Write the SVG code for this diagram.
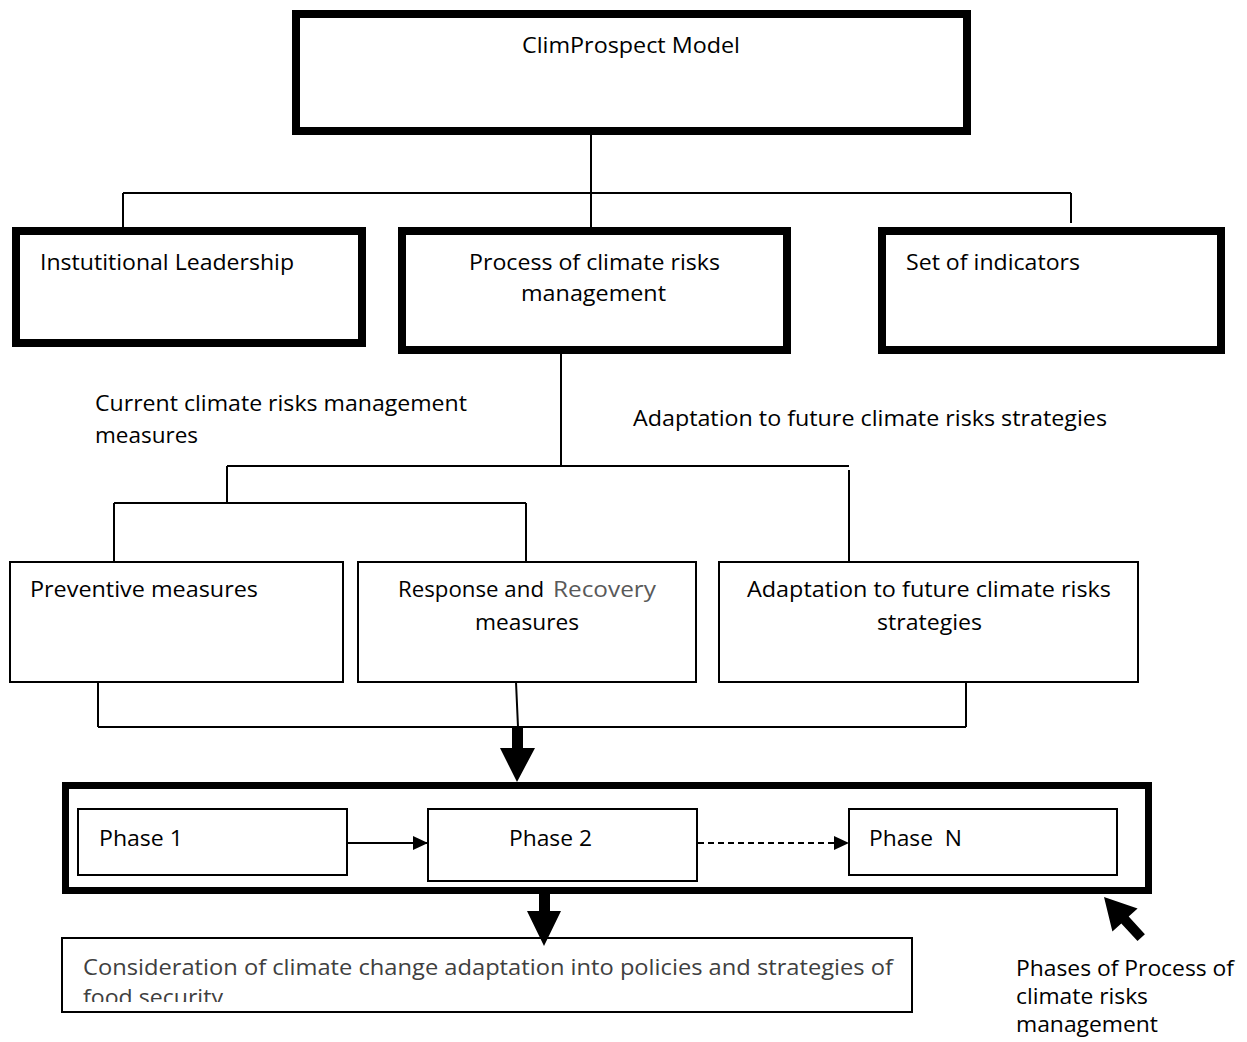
<svg xmlns="http://www.w3.org/2000/svg" width="1247" height="1042" viewBox="0 0 1247 1042">
<style>
.thick{fill:#fff;stroke:#000;stroke-width:8}
.thin{fill:#fff;stroke:#000;stroke-width:2}
.ln{fill:none;stroke:#000;stroke-width:2}
.t{font-family:"Open Sans","Liberation Sans",sans-serif;font-size:21px;fill:#000}
.g{fill:#404040}
.gr{fill:#595959}
</style>
<defs>
<marker id="ah" markerWidth="15" markerHeight="14" refX="15" refY="7" orient="auto" markerUnits="userSpaceOnUse">
<path d="M0,0 L15,7 L0,14 Z" fill="#000"/>
</marker>
<clipPath id="clipBottom"><rect x="62" y="938" width="850" height="64"/></clipPath>
</defs>
<rect width="1247" height="1042" fill="#fff"/>

<g id="node-climprospect">
<rect class="thick" x="296" y="14" width="671" height="117"/>
<text class="t" x="522" y="53" textLength="218" lengthAdjust="spacingAndGlyphs">ClimProspect Model</text>
</g>

<g id="node-leadership">
<rect class="thick" x="16" y="231" width="346" height="112"/>
<text class="t" x="40" y="270" textLength="254" lengthAdjust="spacingAndGlyphs">Instutitional Leadership</text>
</g>

<g id="node-process">
<rect class="thick" x="402" y="231" width="385" height="119"/>
<text class="t" x="469" y="270" textLength="251" lengthAdjust="spacingAndGlyphs">Process of climate risks</text>
<text class="t" x="521" y="301" textLength="145" lengthAdjust="spacingAndGlyphs">management</text>
</g>

<g id="node-indicators">
<rect class="thick" x="882" y="231" width="339" height="119"/>
<text class="t" x="906" y="270" textLength="174" lengthAdjust="spacingAndGlyphs">Set of indicators</text>
</g>

<g id="label-current">
<text class="t" x="95" y="411" textLength="372" lengthAdjust="spacingAndGlyphs">Current climate risks management</text>
<text class="t" x="95" y="443" textLength="103" lengthAdjust="spacingAndGlyphs">measures</text>
</g>

<g id="label-adaptation">
<text class="t" x="633" y="426" textLength="474" lengthAdjust="spacingAndGlyphs">Adaptation to future climate risks strategies</text>
</g>

<g id="node-preventive">
<rect class="thin" x="10" y="562" width="333" height="120"/>
<text class="t" x="30" y="597" textLength="228" lengthAdjust="spacingAndGlyphs">Preventive measures</text>
</g>

<g id="node-response">
<rect class="thin" x="358" y="562" width="338" height="120"/>
<text class="t" x="398" y="597" textLength="146" lengthAdjust="spacingAndGlyphs">Response and</text>
<text class="t gr" x="553" y="597" textLength="103" lengthAdjust="spacingAndGlyphs">Recovery</text>
<text class="t" x="475" y="630" textLength="104" lengthAdjust="spacingAndGlyphs">measures</text>
</g>

<g id="node-adaptation">
<rect class="thin" x="719" y="562" width="419" height="120"/>
<text class="t" x="747" y="597" textLength="364" lengthAdjust="spacingAndGlyphs">Adaptation to future climate risks</text>
<text class="t" x="877" y="630" textLength="105" lengthAdjust="spacingAndGlyphs">strategies</text>
</g>

<g id="node-phases">
<rect x="65.5" y="785.5" width="1083" height="105" fill="none" stroke="#000" stroke-width="7"/>
</g>

<g id="node-phase1">
<rect class="thin" x="78" y="809" width="269" height="66"/>
<text class="t" x="99" y="846" textLength="84" lengthAdjust="spacingAndGlyphs">Phase 1</text>
</g>

<g id="node-phase2">
<rect class="thin" x="428" y="809" width="269" height="72"/>
<text class="t" x="509" y="846" textLength="83" lengthAdjust="spacingAndGlyphs">Phase 2</text>
</g>

<g id="node-phaseN">
<rect class="thin" x="849" y="809" width="268" height="66"/>
<text class="t" x="869" y="846" textLength="93" lengthAdjust="spacingAndGlyphs" xml:space="preserve">Phase  N</text>
</g>

<g id="node-consideration">
<rect class="thin" x="62" y="938" width="850" height="74"/>
<g clip-path="url(#clipBottom)">
<text class="t g" x="83" y="975" textLength="810" lengthAdjust="spacingAndGlyphs">Consideration of climate change adaptation into policies and strategies of</text>
<text class="t g" x="83" y="1005" textLength="140" lengthAdjust="spacingAndGlyphs">food security</text>
</g>
</g>

<g id="label-phases">
<text class="t" x="1016" y="976" textLength="218" lengthAdjust="spacingAndGlyphs">Phases of Process of</text>
<text class="t" x="1016" y="1004" textLength="132" lengthAdjust="spacingAndGlyphs">climate risks</text>
<text class="t" x="1016" y="1032" textLength="142" lengthAdjust="spacingAndGlyphs">management</text>
</g>

<g id="connectors">
<path class="ln" d="M591,135 V227 M123,193 H1071 M123,193 V227 M1071,193 V223"/>
<path class="ln" d="M561,354 V466 M227,466 H849 M227,466 V503 M114,503 H526 M114,503 V562 M526,503 V562 M849,470 V562"/>
<path class="ln" d="M98,682 V727 M516,682 L518,727 M966,682 V727 M98,727 H966"/>
<polygon points="512,727 523,727 523,748 535,748 517,782 500,748 512,748" fill="#000"/>
<polygon points="539,894 550,894 550,911 561,911 544,946 527,911 539,911" fill="#000"/>
<line class="ln" x1="348" y1="843" x2="428" y2="843" marker-end="url(#ah)"/>
<line class="ln" x1="698" y1="843" x2="849" y2="843" stroke-dasharray="6,4" marker-end="url(#ah)"/>
<polygon points="1104,897 1137.6,908.5 1128.7,916.6 1144.9,934.3 1137.5,941.1 1121.3,923.4 1112.4,931.5" fill="#000"/>
</g>
</svg>
